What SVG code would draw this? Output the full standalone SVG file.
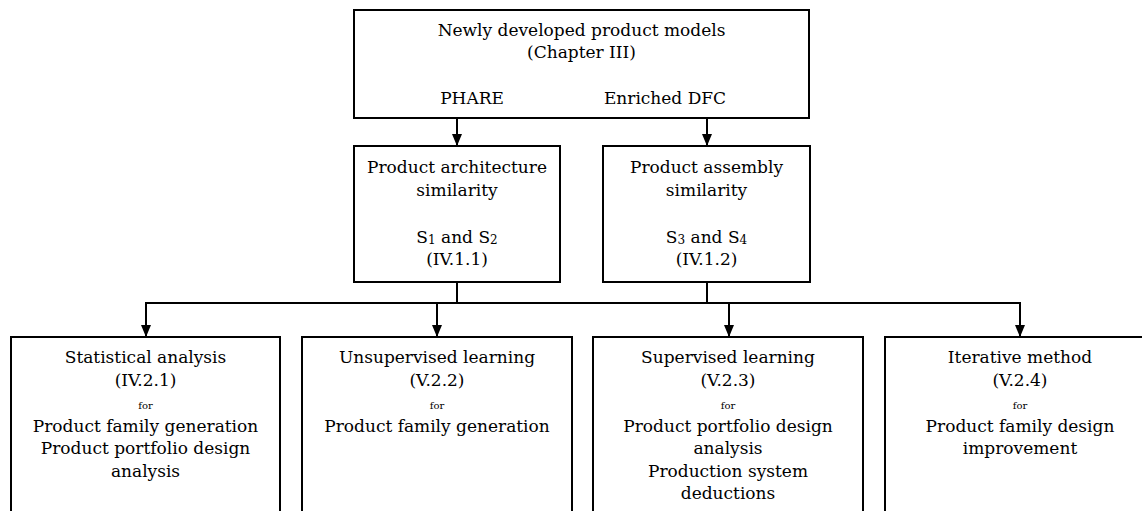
<svg xmlns="http://www.w3.org/2000/svg" width="1142" height="511" viewBox="0 0 1142 511">
<style>
.box{fill:#fff;stroke:#000;stroke-width:2}
.t{font-family:"DejaVu Serif","Liberation Serif",serif;font-size:17px;fill:#000;text-anchor:middle}
.s{font-size:10px}
.sub{font-size:12px}
.c{fill:none;stroke:#000;stroke-width:2}
</style>
<defs>
<marker id="ah" markerUnits="userSpaceOnUse" markerWidth="12" markerHeight="12" viewBox="0 0 12 12" refX="12" refY="6" orient="auto">
<path d="M0,1 L12,6 L0,11 Z" fill="#000"/>
</marker>
</defs>
<rect width="1142" height="511" fill="#fff"/>
<g id="connectors">
<line class="c" x1="457" y1="118" x2="457" y2="146" marker-end="url(#ah)"/>
<line class="c" x1="707" y1="118" x2="707" y2="146" marker-end="url(#ah)"/>
<line class="c" x1="457" y1="282" x2="457" y2="303"/>
<line class="c" x1="707" y1="282" x2="707" y2="303"/>
<line class="c" x1="145" y1="303" x2="1021" y2="303"/>
<line class="c" x1="146" y1="303" x2="146" y2="337" marker-end="url(#ah)"/>
<line class="c" x1="437" y1="303" x2="437" y2="337" marker-end="url(#ah)"/>
<line class="c" x1="729" y1="303" x2="729" y2="337" marker-end="url(#ah)"/>
<line class="c" x1="1020" y1="303" x2="1020" y2="337" marker-end="url(#ah)"/>
</g>
<g id="models">
<rect class="box" x="354" y="10" width="455" height="108"/>
<text class="t" x="581.5" y="36">Newly developed product models</text>
<text class="t" x="581.5" y="58">(Chapter III)</text>
<text class="t" x="472" y="104">PHARE</text>
<text class="t" x="665" y="104">Enriched DFC</text>
</g>
<g id="architecture">
<rect class="box" x="354" y="146" width="206" height="136"/>
<text class="t" x="457" y="173">Product architecture</text>
<text class="t" x="457" y="196">similarity</text>
<text class="t" x="457" y="243">S<tspan class="sub" dy="1">1</tspan><tspan dy="-1"> and S</tspan><tspan class="sub" dy="1">2</tspan></text>
<text class="t" x="457" y="265">(IV.1.1)</text>
</g>
<g id="assembly">
<rect class="box" x="603" y="146" width="207" height="136"/>
<text class="t" x="706.5" y="173">Product assembly</text>
<text class="t" x="706.5" y="196">similarity</text>
<text class="t" x="706.5" y="243">S<tspan class="sub" dy="1">3</tspan><tspan dy="-1"> and S</tspan><tspan class="sub" dy="1">4</tspan></text>
<text class="t" x="706.5" y="265">(IV.1.2)</text>
</g>
<g id="statistical">
<rect class="box" x="11" y="337" width="269" height="190"/>
<text class="t" x="145.5" y="363">Statistical analysis</text>
<text class="t" x="145.5" y="386">(IV.2.1)</text>
<text class="t s" x="145.5" y="409">for</text>
<text class="t" x="145.5" y="432">Product family generation</text>
<text class="t" x="145.5" y="454">Product portfolio design</text>
<text class="t" x="145.5" y="477">analysis</text>
</g>
<g id="unsupervised">
<rect class="box" x="302" y="337" width="270" height="190"/>
<text class="t" x="437" y="363">Unsupervised learning</text>
<text class="t" x="437" y="386">(V.2.2)</text>
<text class="t s" x="437" y="409">for</text>
<text class="t" x="437" y="432">Product family generation</text>
</g>
<g id="supervised">
<rect class="box" x="593" y="337" width="270" height="190"/>
<text class="t" x="728" y="363">Supervised learning</text>
<text class="t" x="728" y="386">(V.2.3)</text>
<text class="t s" x="728" y="409">for</text>
<text class="t" x="728" y="432">Product portfolio design</text>
<text class="t" x="728" y="454">analysis</text>
<text class="t" x="728" y="477">Production system</text>
<text class="t" x="728" y="499">deductions</text>
</g>
<g id="iterative">
<rect class="box" x="885" y="337" width="270" height="190"/>
<text class="t" x="1020" y="363">Iterative method</text>
<text class="t" x="1020" y="386">(V.2.4)</text>
<text class="t s" x="1020" y="409">for</text>
<text class="t" x="1020" y="432">Product family design</text>
<text class="t" x="1020" y="454">improvement</text>
</g>
</svg>
